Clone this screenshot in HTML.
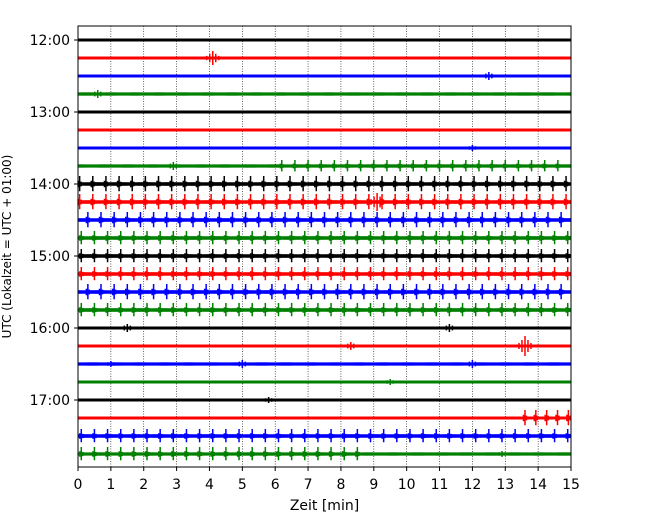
<!DOCTYPE html>
<html><head><meta charset="utf-8"><style>
body{margin:0;background:#fff}
svg{display:block;font-family:"DejaVu Sans","Liberation Sans",sans-serif}
</style></head><body>
<svg id="c" width="650" height="520"></svg>
<script>
const traceLabels=["12:00","","","","13:00","","","","14:00","","","","15:00","","","","16:00","","","","17:00","","",""];
const traceColors=["#000","#f00","#00f","#008000"];
const noiseAmp=[1.5,1.5,1.5,1.8,1.5,1.5,1.5,1.8,2,2,2,2,2,2,2,2,1.5,1.5,1.8,1.5,1.5,1.5,2,1.8];
const spikeStart=[null,null,null,null,null,null,null,6.2,0.05,0.05,0.3,0.1,0.1,0.1,0.3,0.1,null,null,null,null,null,13.6,0.1,0.1];
const spikeEnd=[null,null,null,null,null,null,null,15,15,15,15,15,15,15,15,15,null,null,null,null,null,15,15,8.7];
const spikePeriod=[0,0,0,0,0,0,0,0.4,0.4,0.4,0.4,0.4,0.4,0.4,0.4,0.4,0,0,0,0,0,0.33,0.4,0.4];
const spikeAmp=[0,0,0,0,0,0,0,6,8,8,8,7,7,7,8,7,0,0,0,0,0,8,7,7];
const eventTrace=[1,2,3,7,9,16,16,17,17,18,18,18,19,20,6,23];
const eventMin=[4.1,12.5,0.6,2.9,9.1,1.5,11.3,8.3,13.6,5.0,12.0,1.0,9.5,5.8,12.0,12.9];
const eventAmp=[7,4,4,4,9,4,4,4,10,4,4,3,3,3,3,3];
const xTicks=[0,1,2,3,4,5,6,7,8,9,10,11,12,13,14,15];

const L=78,R=571,T=26,B=467;
const X=m=>L+(m/15)*(R-L);
const Y=i=>40+i*18;
const svg=document.getElementById('c');
const NS="http://www.w3.org/2000/svg";
function el(t,a,p){const e=document.createElementNS(NS,t);for(const k in a)e.setAttribute(k,a[k]);(p||svg).appendChild(e);return e;}

xTicks.forEach(m=>{if(m>0&&m<15){const g=el('line',{x1:X(m),x2:X(m),y1:T,y2:B,stroke:'#000','stroke-width':0.6,'stroke-dasharray':'1,1.5'});

}});

for(let i=0;i<24;i++){
  const c=traceColors[i%4],y=Y(i),gr=el('g',{});
  
  
  el('line',{x1:X(0),x2:X(15),y1:y,y2:y,stroke:c,'stroke-width':noiseAmp[i]+1.5},gr);
  let d='';
  for(let px=X(0);px<X(15);px+=2){const a=noiseAmp[i]*(0.6+0.4*Math.abs(Math.sin(px*1.7+i)));d+=`M${px},${y-a}V${y+a}`;}
  el('path',{d:d,stroke:c,'stroke-width':0.8},gr);
  if(spikeStart[i]!==null){
    for(let m=spikeStart[i];m<=spikeEnd[i];m+=spikePeriod[i]){
      const a=spikeAmp[i],sx=X(m);
      const s=el('path',{d:`M${sx},${y-a}V${y+a*0.9}M${sx-1.5},${y-a*0.4}V${y+a*0.4}M${sx+1.5},${y-a*0.3}V${y+a*0.3}`,stroke:c,'stroke-width':1.5},gr);
      
      
    }
  }
}
eventTrace.forEach((t,k)=>{
  const c=traceColors[t%4],y=Y(t),sx=X(eventMin[k]),a=eventAmp[k];
  const e=el('path',{d:`M${sx-6},${y-a*0.3}V${y+a*0.3}M${sx-3},${y-a*0.6}V${y+a*0.6}M${sx},${y-a}V${y+a}M${sx+3},${y-a*0.6}V${y+a*0.6}M${sx+6},${y-a*0.3}V${y+a*0.3}`,stroke:c,'stroke-width':1.5});
  
  
});

const f=el('rect',{x:L,y:T,width:R-L,height:B-T,fill:'none',stroke:'#000','stroke-width':1});



xTicks.forEach(m=>{
  el('line',{x1:X(m),x2:X(m),y1:B,y2:B+4,stroke:'#000','stroke-width':1});
  const t=el('text',{x:X(m),y:B+22,'text-anchor':'middle','font-size':14});
  t.textContent=m;
  
  
});
traceLabels.forEach((s,i)=>{if(!s)return;
  el('line',{x1:L-4,x2:L,y1:Y(i),y2:Y(i),stroke:'#000','stroke-width':1});
  const t=el('text',{x:L-8,y:Y(i)+5,'text-anchor':'end','font-size':14});
  t.textContent=s;
  
  
});
const xt=el('text',{x:(L+R)/2,y:510,'text-anchor':'middle','font-size':14,'xml:space':'preserve'});
xt.textContent='Zeit  [min]';


const yt=el('text',{x:0,y:0,'text-anchor':'middle','font-size':12,transform:`translate(11,${(T+B)/2}) rotate(-90)`});
yt.textContent='UTC (Lokalzeit = UTC + 01:00)';


</script>
</body></html>
